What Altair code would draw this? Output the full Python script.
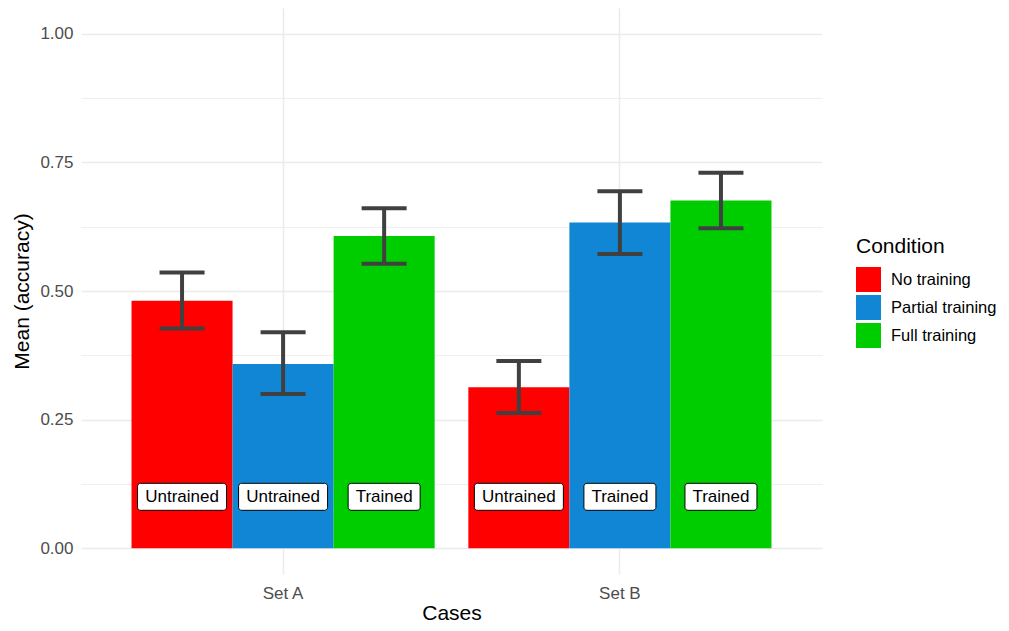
import altair as alt
import pandas as pd

cases = ["Set A", "Set A", "Set A", "Set B", "Set B", "Set B"]
conditions = ["No training", "Partial training", "Full training"] * 2
means = [0.481, 0.358, 0.607, 0.313, 0.633, 0.676]
lows = [0.427, 0.300, 0.553, 0.263, 0.572, 0.622]
highs = [0.536, 0.420, 0.661, 0.364, 0.694, 0.730]
labels = ["Untrained", "Untrained", "Trained", "Untrained", "Trained", "Trained"]
label_level = [0.1] * 6

case_order = ["Set A", "Set B"]
cond_order = ["No training", "Partial training", "Full training"]
cond_colors = ["#FF0000", "#1086D5", "#00CD00"]
y_ticks = [0, 0.125, 0.25, 0.375, 0.5, 0.625, 0.75, 0.875, 1.0]

df = pd.DataFrame({
    "case": cases, "condition": conditions, "mean": means,
    "lo": lows, "hi": highs, "label": labels, "ly": label_level,
})

FONT = "Liberation Sans"

x_enc = alt.X(
    "case:N", sort=case_order,
    scale=alt.Scale(paddingInner=0.1, paddingOuter=0.15),
    axis=alt.Axis(title="Cases", labelAngle=0, ticks=False, domain=False, grid=True,
                  bandPosition=0.5, gridColor="#EBEBEB", gridWidth=1.5,
                  labelColor="#4D4D4D", labelFontSize=17, labelPadding=11,
                  titleFontSize=21, titleColor="#000000", titleFontWeight="normal",
                  titleBaseline="alphabetic", titleY=45,
                  labelFont=FONT, titleFont=FONT),
)
xo_enc = alt.XOffset("condition:N", sort=cond_order,
                     scale=alt.Scale(paddingInner=0, paddingOuter=0))
y_scale = alt.Scale(domain=[-0.05, 1.05], nice=False, zero=False)

bars = alt.Chart(df).mark_bar().encode(
    x=x_enc, xOffset=xo_enc,
    y=alt.Y("mean:Q", scale=y_scale,
            axis=alt.Axis(title="Mean (accuracy)", values=y_ticks,
                          labelExpr="(datum.value * 4) % 1 == 0 ? format(datum.value, '.2f') : ''",
                          ticks=False, domain=False, grid=True, gridColor="#EBEBEB",
                          gridWidth={"condition": {"test": "(datum.value * 4) % 1 != 0", "value": 0.8},
                                     "value": 1.5},
                          labelColor="#4D4D4D", labelFontSize=17, labelPadding=8,
                          titleFontSize=21, titleColor="#000000", titleFontWeight="normal",
                          titlePadding=7, labelFont=FONT, titleFont=FONT)),
    color=alt.Color("condition:N", sort=cond_order,
                    scale=alt.Scale(domain=cond_order, range=cond_colors),
                    legend=alt.Legend(title="Condition", orient="none", legendX=775, legendY=228,
                                      symbolType="square", symbolSize=625, symbolStrokeWidth=0,
                                      symbolOpacity=1, rowPadding=3, titlePadding=10,
                                      titleFontSize=21, titleFontWeight="normal", titleColor="#000000",
                                      labelFontSize=16.5, labelColor="#000000", labelOffset=10,
                                      titleFont=FONT, labelFont=FONT)),
)

err_color = "#404040"
rules = alt.Chart(df).mark_rule(strokeWidth=4, color=err_color).encode(
    x=x_enc, xOffset=xo_enc, y=alt.Y("lo:Q", scale=y_scale), y2="hi:Q",
)
caps_lo = alt.Chart(df).mark_tick(size=45, thickness=4, color=err_color, opacity=1).encode(
    x=x_enc, xOffset=xo_enc, y=alt.Y("lo:Q", scale=y_scale),
)
caps_hi = alt.Chart(df).mark_tick(size=45, thickness=4, color=err_color, opacity=1).encode(
    x=x_enc, xOffset=xo_enc, y=alt.Y("hi:Q", scale=y_scale),
)

box_u = alt.Chart(df).transform_filter(alt.datum.label == "Untrained").mark_rect(
    width=89, height=27, cornerRadius=3, fill="white", stroke="black", strokeWidth=1
).encode(x=x_enc, xOffset=xo_enc, y=alt.Y("ly:Q", scale=y_scale))
box_t = alt.Chart(df).transform_filter(alt.datum.label == "Trained").mark_rect(
    width=72, height=27, cornerRadius=3, fill="white", stroke="black", strokeWidth=1
).encode(x=x_enc, xOffset=xo_enc, y=alt.Y("ly:Q", scale=y_scale))
texts = alt.Chart(df).mark_text(fontSize=17, font=FONT, color="black", baseline="middle",
                                align="center").encode(
    x=x_enc, xOffset=xo_enc, y=alt.Y("ly:Q", scale=y_scale), text="label:N",
)

chart = alt.layer(bars, rules, caps_lo, caps_hi, box_u, box_t, texts).properties(
    width=741, height=566,
    background="white",
    autosize=alt.AutoSizeParams(type="none"),
    padding={"left": 73, "top": 0, "right": 175, "bottom": 48},
).configure_view(strokeWidth=0, stroke=None)

chart.save("out.html", embed_options={"renderer": "svg", "actions": False})
